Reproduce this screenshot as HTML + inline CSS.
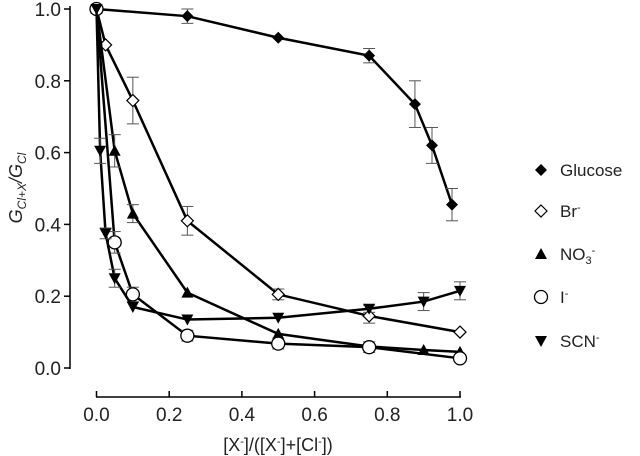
<!DOCTYPE html>
<html><head><meta charset="utf-8"><style>
html,body{margin:0;padding:0;background:#fff;}
svg{display:block;font-family:"Liberation Sans",sans-serif;}
</style></head><body>
<svg id="chart" width="640" height="456"></svg>
<script>
const xVals={
glucose:[0,0.25,0.5,0.75,0.876,0.923,0.978],
br:[0,0.025,0.1,0.25,0.5,0.75,1.0],
no3:[0,0.05,0.1,0.25,0.5,0.75,0.9,1.0],
iod:[0,0.05,0.1,0.25,0.5,0.75,1.0],
scn:[0,0.01,0.025,0.05,0.1,0.25,0.5,0.75,0.9,1.0]};
const glucoseY=[1.0,0.98,0.92,0.87,0.735,0.62,0.455];
const glucoseErr=[0,0.02,0,0.02,0.065,0.05,0.045];
const brY=[1.0,0.9,0.745,0.41,0.205,0.145,0.1];
const brErr=[0,0,0.065,0.04,0.015,0.02,0];
const no3Y=[1.0,0.605,0.43,0.21,0.095,0.06,0.05,0.045];
const no3Err=[0,0.045,0.025,0,0,0,0,0];
const iodY=[1.0,0.35,0.205,0.09,0.068,0.058,0.027];
const iodErr=[0,0.03,0.02,0.015,0.015,0.015,0];
const scnY=[1.0,0.605,0.375,0.25,0.17,0.135,0.14,0.165,0.185,0.215];
const scnErr=[0,0.035,0.015,0.025,0,0,0,0.01,0.025,0.025];
const xTicks=[0,0.2,0.4,0.6,0.8,1.0];
const yTicks=[0,0.2,0.4,0.6,0.8,1.0];
const NS="http://www.w3.org/2000/svg";
const svg=document.getElementById('chart');
const X=v=>96.5+v*363.5, Y=v=>368-v*359;
function el(t,a,p){const e=document.createElementNS(NS,t);for(const k in a)e.setAttribute(k,a[k]);(p||svg).appendChild(e);return e;}
const ya=el('g',{});


el('line',{x1:70,y1:6,x2:70,y2:369,stroke:'#000','stroke-width':1.5},ya);
yTicks.forEach(t=>{el('line',{x1:64,y1:Y(t),x2:70,y2:Y(t),stroke:'#000','stroke-width':1.5},ya);
const tx=el('text',{x:61,y:Y(t)+7,'text-anchor':'end','font-size':19,fill:'#222'},ya);tx.textContent=t.toFixed(1);});
const xa=el('g',{});


el('line',{x1:96,y1:397,x2:461,y2:397,stroke:'#000','stroke-width':1.5},xa);
xTicks.forEach(t=>{el('line',{x1:X(t),y1:391,x2:X(t),y2:397,stroke:'#000','stroke-width':1.5},xa);
const tx=el('text',{x:X(t),y:421,'text-anchor':'middle','font-size':19,fill:'#222'},xa);tx.textContent=t.toFixed(1);});
const xt=el('text',{x:278,y:451,'text-anchor':'middle','font-size':18,fill:'#222'});


xt.innerHTML='[X<tspan dy="-6" font-size="11">-</tspan><tspan dy="6">]/([X</tspan><tspan dy="-6" font-size="11">-</tspan><tspan dy="6">]+[Cl</tspan><tspan dy="-6" font-size="11">-</tspan><tspan dy="6">])</tspan>';
const yt=el('text',{transform:'translate(22,188) rotate(-90)','text-anchor':'middle','font-size':18,'font-style':'italic',fill:'#222'});


yt.innerHTML='G<tspan font-size="12" dy="4">Cl+X</tspan><tspan dy="-4">/G</tspan><tspan font-size="12" dy="4">Cl</tspan>';
function marker(type,cx,cy,g){
 if(type==='diamondF')return el('polygon',{points:`${cx},${cy-6} ${cx+6},${cy} ${cx},${cy+6} ${cx-6},${cy}`,fill:'#000'},g);
 if(type==='diamondO')return el('polygon',{points:`${cx},${cy-6} ${cx+6},${cy} ${cx},${cy+6} ${cx-6},${cy}`,fill:'#fff',stroke:'#000','stroke-width':1.2},g);
 if(type==='triUp')return el('polygon',{points:`${cx},${cy-6} ${cx+6},${cy+5} ${cx-6},${cy+5}`,fill:'#000'},g);
 if(type==='triDown')return el('polygon',{points:`${cx},${cy+6} ${cx+6},${cy-5} ${cx-6},${cy-5}`,fill:'#000'},g);
 return el('circle',{cx,cy,r:6.5,fill:'#fff',stroke:'#000','stroke-width':1.3},g);
}
const series=[
['glucose',xVals.glucose,glucoseY,glucoseErr,'diamondF','Glucose',170],
['br',xVals.br,brY,brErr,'diamondO','Br',211],
['no3',xVals.no3,no3Y,no3Err,'triUp','NO3',254],
['iod',xVals.iod,iodY,iodErr,'circle','I',297],
['scn',xVals.scn,scnY,scnErr,'triDown','SCN',341]];
series.forEach(([id,xs,ys,es,m,lab,ly])=>{
 const g=el('g',{});
 
 
 el('polyline',{points:xs.map((x,i)=>X(x)+','+Y(ys[i])).join(' '),fill:'none',stroke:'#000','stroke-width':2.5},g);
 xs.forEach((x,i)=>{if(es[i]>0){const cx=X(x),a=Y(ys[i]+es[i]),b=Y(ys[i]-es[i]);
  el('line',{x1:cx,y1:a,x2:cx,y2:b,stroke:'#555','stroke-width':1},g);
  el('line',{x1:cx-6,y1:a,x2:cx+6,y2:a,stroke:'#555','stroke-width':1},g);
  el('line',{x1:cx-6,y1:b,x2:cx+6,y2:b,stroke:'#555','stroke-width':1},g);}});
 xs.forEach((x,i)=>{const mk=marker(m,X(x),Y(ys[i]),g);
  
  });
 const lg=el('g',{});
 
 
 marker(m,541,ly,lg);
 const t=el('text',{x:560,y:ly+6,'font-size':17,fill:'#222'},lg);
 t.innerHTML=lab==='NO3'?'NO<tspan font-size="11" dy="4">3</tspan><tspan font-size="11" dy="-10">-</tspan>':(lab==='Glucose'?lab:lab+'<tspan font-size="11" dy="-6">-</tspan>');
});
</script>
</body></html>
